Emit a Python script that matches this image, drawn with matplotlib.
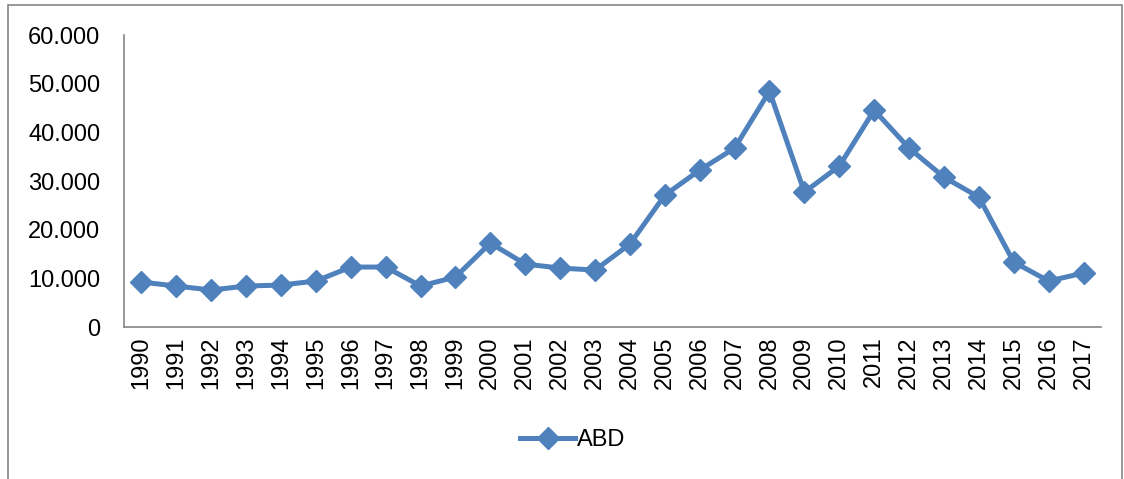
import matplotlib.pyplot as plt
from matplotlib.patches import Rectangle
from matplotlib.ticker import FuncFormatter

plt.rcParams['font.family'] = ['Liberation Sans', 'DejaVu Sans']

# years and values
years = [str(y) for y in range(1990, 2018)]
abd = [9240, 8420, 7600, 8420, 8620, 9450, 12320, 12320, 8420, 10270,
       17250, 12940, 12110, 11700, 17040, 27100, 32240, 36760, 48460, 27720,
       33060, 44560, 36760, 30800, 26690, 13350, 9450, 11090]
yticks = [0, 10000, 20000, 30000, 40000, 50000, 60000]

fig = plt.figure(figsize=(11.24, 4.79), dpi=100)
ax = fig.add_axes([0.1103, 0.3173, 0.8692, 0.6096])

x = range(len(years))
ax.plot(x, abd, color='#4F81BD', linewidth=3.6, marker='D', markersize=11.5,
        label='ABD')

ax.set_xlim(-0.5, len(years) - 0.5)
ax.set_ylim(0, 60000)
ax.set_xticks(list(x))
ax.set_xticklabels(years, rotation=90, fontsize=17)
ax.set_yticks(yticks)
ax.yaxis.set_major_formatter(FuncFormatter(
    lambda v, p: '0' if v == 0 else f'{int(v):,}'.replace(',', '.')))
ax.tick_params(axis='y', labelsize=17, length=0, pad=17)
ax.tick_params(axis='x', length=0, pad=7)

for s in ['top', 'right']:
    ax.spines[s].set_visible(False)
for s in ['left', 'bottom']:
    ax.spines[s].set_color('#868686')
    ax.spines[s].set_linewidth(1.2)

fig.legend(loc='center', bbox_to_anchor=(573 / 1124, 1 - 440 / 479),
           frameon=False, fontsize=17, handlelength=2.3, handletextpad=0.1)

# chart frame
fig.patches.append(Rectangle((8 / 1124, -0.01), 1114 / 1124, 1 - 5 / 479 + 0.01,
                             transform=fig.transFigure, fill=False,
                             edgecolor='#868686', linewidth=1.2))

fig.savefig('out.png', dpi=100)
